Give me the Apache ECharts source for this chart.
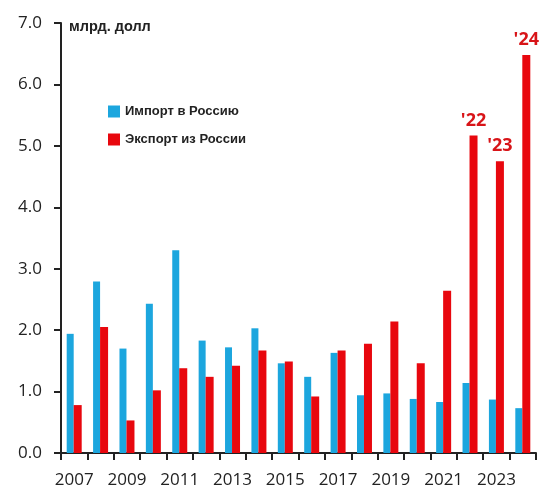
<!DOCTYPE html>
<html>
<head>
<meta charset="utf-8">
<script src="https://cdn.jsdelivr.net/npm/echarts@6/dist/echarts.min.js"></script>
<style>html,body{margin:0;padding:0;background:#fff}#c{width:542px;height:491px}</style>
</head>
<body>
<div id="c"></div>
<script>
var years = ['2007','2008','2009','2010','2011','2012','2013','2014','2015','2016','2017','2018','2019','2020','2021','2022','2023','2024'];
var importVals = [1.94,2.79,1.70,2.43,3.30,1.83,1.72,2.03,1.46,1.24,1.63,0.94,0.97,0.88,0.83,1.14,0.87,0.73];
var exportVals = [0.78,2.05,0.53,1.02,1.38,1.24,1.42,1.67,1.49,0.92,1.67,1.78,2.14,1.46,2.64,5.17,4.75,6.48];
var topLabels = {'2022':"'22",'2023':"'23",'2024':"'24"};
var unitText = 'млрд. долл';
var importName = 'Импорт в Россию';
var exportName = 'Экспорт из России';

var chart = echarts.init(document.getElementById('c'));
chart.setOption({
  animation:false,
  backgroundColor:'#fff',
  grid:{left:61,right:6,top:23,bottom:38},
  legend:{
    orient:'vertical', left:103, top:100, itemWidth:12, itemHeight:12, itemGap:15,
    icon:'rect',
    textStyle:{fontFamily:'Liberation Sans, Arial', fontWeight:'bold', fontSize:13, color:'#222'},
    data:[importName, exportName]
  },
  graphic:[{type:'text', left:69, top:19, style:{text:unitText, font:'bold 14.5px "Liberation Sans", Arial', fill:'#222'}}],
  xAxis:{
    type:'category', data:years,
    axisLine:{lineStyle:{color:'#222',width:2}},
    axisTick:{show:true,interval:0,length:7,lineStyle:{color:'#222',width:2}},
    axisLabel:{interval:1,color:'#222',fontSize:17,fontFamily:'Open Sans, Noto Sans',margin:19}
  },
  yAxis:{
    type:'value', min:0, max:7, interval:1,
    splitLine:{show:false},
    axisLine:{show:true,lineStyle:{color:'#222',width:2}},
    axisTick:{show:true,length:7,lineStyle:{color:'#222',width:2}},
    axisLabel:{color:'#222',fontSize:17,fontFamily:'Open Sans, Noto Sans',margin:19,formatter:function(v){return v.toFixed(1);}}
  },
  series:[
    {name:importName,type:'bar',data:importVals,barWidth:7,barGap:'0%',itemStyle:{color:'#1CA6DE'}},
    {name:exportName,type:'bar',data:exportVals,barWidth:8,itemStyle:{color:'#E8070E'},
     label:{show:true,position:'top',distance:6,color:'#D81418',fontWeight:'bold',fontSize:18,fontFamily:'Open Sans, Noto Sans',
       formatter:function(p){return topLabels[p.name]||'';}}}
  ]
});
</script>
</body>
</html>
